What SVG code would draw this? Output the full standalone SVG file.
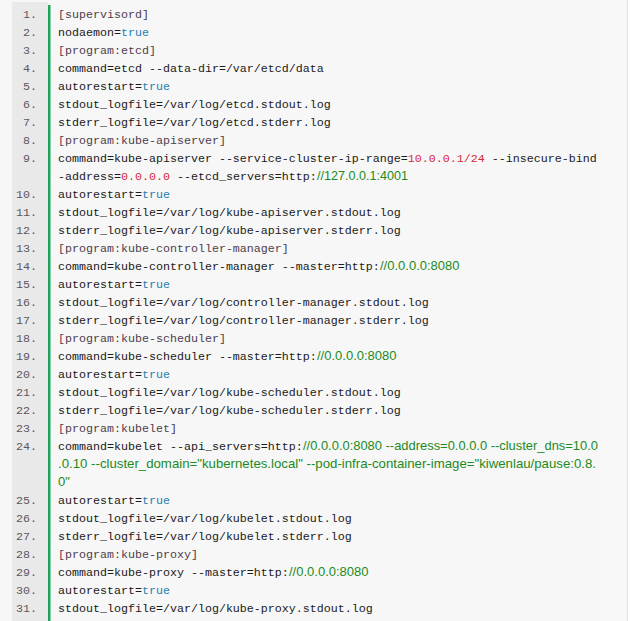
<svg xmlns="http://www.w3.org/2000/svg" width="630" height="621" viewBox="0 0 630 621">
<style>
.n{font-family:"Liberation Mono","DejaVu Sans Mono",monospace;font-size:11.67px;fill:#5f5560;text-anchor:end}
.c{font-family:"Liberation Mono","DejaVu Sans Mono",monospace;font-size:11.67px;fill:#1a1a1a;white-space:pre}
.h{fill:#4e3e4c}
.t{fill:#1f7fb0}
.r{fill:#d5283c}
.g{font-family:"Liberation Sans","Noto Sans",sans-serif;font-size:13px;fill:#1d8a1d}
</style>
<rect x="0" y="0" width="630" height="621" fill="#ffffff"/>
<rect x="0" y="0" width="627" height="621" fill="#f7f7f7"/>
<rect x="602" y="0" width="25" height="621" fill="#f8f8f8"/>
<line x1="627.5" y1="0" x2="627.5" y2="621" stroke="#e2e2e2" stroke-width="1"/>
<rect x="12" y="2" width="36" height="619" fill="#e9e9e9"/>
<rect x="48" y="5" width="2.5" height="616" fill="#1ca35c"/>
<g id="line-numbers">
<text class="n" x="37" y="18">1.</text>
<text class="n" x="37" y="36">2.</text>
<text class="n" x="37" y="54">3.</text>
<text class="n" x="37" y="72">4.</text>
<text class="n" x="37" y="90">5.</text>
<text class="n" x="37" y="108">6.</text>
<text class="n" x="37" y="126">7.</text>
<text class="n" x="37" y="144">8.</text>
<text class="n" x="37" y="162">9.</text>
<text class="n" x="37" y="198">10.</text>
<text class="n" x="37" y="216">11.</text>
<text class="n" x="37" y="234">12.</text>
<text class="n" x="37" y="252">13.</text>
<text class="n" x="37" y="270">14.</text>
<text class="n" x="37" y="288">15.</text>
<text class="n" x="37" y="306">16.</text>
<text class="n" x="37" y="324">17.</text>
<text class="n" x="37" y="342">18.</text>
<text class="n" x="37" y="360">19.</text>
<text class="n" x="37" y="378">20.</text>
<text class="n" x="37" y="396">21.</text>
<text class="n" x="37" y="414">22.</text>
<text class="n" x="37" y="432">23.</text>
<text class="n" x="37" y="450">24.</text>
<text class="n" x="37" y="504">25.</text>
<text class="n" x="37" y="522">26.</text>
<text class="n" x="37" y="540">27.</text>
<text class="n" x="37" y="558">28.</text>
<text class="n" x="37" y="576">29.</text>
<text class="n" x="37" y="594">30.</text>
<text class="n" x="37" y="612">31.</text>
</g>
<g id="code">
<text class="c h" x="58" y="18">[supervisord]</text>
<text class="c" x="58" y="36">nodaemon=<tspan class="t">true</tspan></text>
<text class="c h" x="58" y="54">[program:etcd]</text>
<text class="c" x="58" y="72">command=etcd --data-dir=/var/etcd/data</text>
<text class="c" x="58" y="90">autorestart=<tspan class="t">true</tspan></text>
<text class="c" x="58" y="108">stdout_logfile=/var/log/etcd.stdout.log</text>
<text class="c" x="58" y="126">stderr_logfile=/var/log/etcd.stderr.log</text>
<text class="c h" x="58" y="144">[program:kube-apiserver]</text>
<text class="c" x="58" y="162">command=kube-apiserver --service-cluster-ip-range=<tspan class="r">10.0.0.1/24</tspan> --insecure-bind</text>
<text class="c" x="58" y="180">-address=<tspan class="r">0.0.0.0</tspan> --etcd_servers=http:</text>
<text class="g" x="317" y="180" textLength="91" lengthAdjust="spacingAndGlyphs">//127.0.0.1:4001</text>
<text class="c" x="58" y="198">autorestart=<tspan class="t">true</tspan></text>
<text class="c" x="58" y="216">stdout_logfile=/var/log/kube-apiserver.stdout.log</text>
<text class="c" x="58" y="234">stderr_logfile=/var/log/kube-apiserver.stderr.log</text>
<text class="c h" x="58" y="252">[program:kube-controller-manager]</text>
<text class="c" x="58" y="270">command=kube-controller-manager --master=http:</text>
<text class="g" x="380" y="270">//0.0.0.0:8080</text>
<text class="c" x="58" y="288">autorestart=<tspan class="t">true</tspan></text>
<text class="c" x="58" y="306">stdout_logfile=/var/log/controller-manager.stdout.log</text>
<text class="c" x="58" y="324">stderr_logfile=/var/log/controller-manager.stderr.log</text>
<text class="c h" x="58" y="342">[program:kube-scheduler]</text>
<text class="c" x="58" y="360">command=kube-scheduler --master=http:</text>
<text class="g" x="317" y="360">//0.0.0.0:8080</text>
<text class="c" x="58" y="378">autorestart=<tspan class="t">true</tspan></text>
<text class="c" x="58" y="396">stdout_logfile=/var/log/kube-scheduler.stdout.log</text>
<text class="c" x="58" y="414">stderr_logfile=/var/log/kube-scheduler.stderr.log</text>
<text class="c h" x="58" y="432">[program:kubelet]</text>
<text class="c" x="58" y="450">command=kubelet --api_servers=http:</text>
<text class="g" x="303" y="450" textLength="295" lengthAdjust="spacingAndGlyphs">//0.0.0.0:8080 --address=0.0.0.0 --cluster_dns=10.0</text>
<text class="g" x="58" y="468" textLength="538" lengthAdjust="spacingAndGlyphs">.0.10 --cluster_domain="kubernetes.local" --pod-infra-container-image="kiwenlau/pause:0.8.</text>
<text class="g" x="58" y="486">0"</text>
<text class="c" x="58" y="504">autorestart=<tspan class="t">true</tspan></text>
<text class="c" x="58" y="522">stdout_logfile=/var/log/kubelet.stdout.log</text>
<text class="c" x="58" y="540">stderr_logfile=/var/log/kubelet.stderr.log</text>
<text class="c h" x="58" y="558">[program:kube-proxy]</text>
<text class="c" x="58" y="576">command=kube-proxy --master=http:</text>
<text class="g" x="289" y="576">//0.0.0.0:8080</text>
<text class="c" x="58" y="594">autorestart=<tspan class="t">true</tspan></text>
<text class="c" x="58" y="612">stdout_logfile=/var/log/kube-proxy.stdout.log</text>
</g>
</svg>
